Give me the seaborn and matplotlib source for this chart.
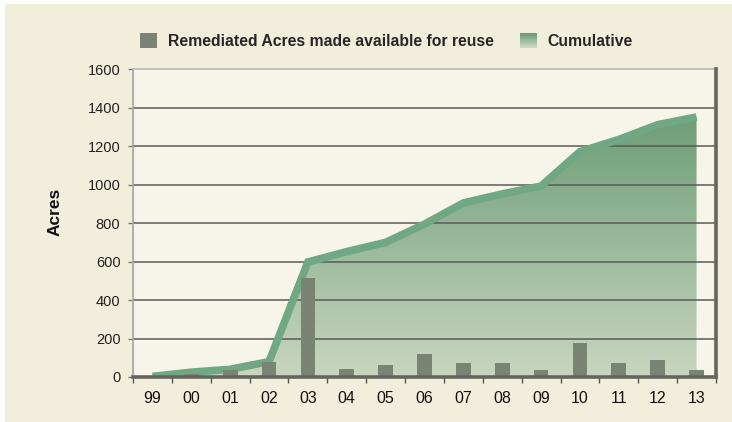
import numpy as np
import pandas as pd
import seaborn as sns
import matplotlib.pyplot as plt
from matplotlib.patches import Patch, Rectangle, Polygon
from matplotlib.legend_handler import HandlerBase
from matplotlib.colors import LinearSegmentedColormap

# data
years = ["99", "00", "01", "02", "03", "04", "05", "06", "07", "08", "09", "10", "11", "12", "13"]
acres = [5, 18, 38, 78, 514, 41, 61, 121, 72, 72, 36, 176, 72, 86, 37]
cumulative = [3, 25, 40, 80, 598, 652, 700, 795, 905, 952, 993, 1172, 1235, 1312, 1352]
yticks = [0, 200, 400, 600, 800, 1000, 1200, 1400, 1600]

bar_color = "#7a8475"
line_color = "#6fa883"
fig_bg = "#f2eedc"
ax_bg = "#f7f5ea"
grad = LinearSegmentedColormap.from_list("grad", ["#c9d6c0", "#6b9c75"])

df = pd.DataFrame({"year": years, "acres": acres, "cumulative": cumulative})
df["pos"] = np.arange(len(df))

sns.set_theme(style="white")
plt.rcParams["font.family"] = ["Liberation Sans", "DejaVu Sans"]

fig = plt.figure(figsize=(7.32, 4.22), dpi=100)
fig.patch.set_facecolor("white")
fig.patches.append(Rectangle((5 / 732, 0), 1, 1 - 4 / 422, transform=fig.transFigure,
                             facecolor=fig_bg, edgecolor="none", zorder=-10))
ax = fig.add_axes([133 / 732, 45 / 422, 583 / 732, 307.7 / 422])
ax.set_facecolor(ax_bg)

# gradient area under the cumulative line
x = df["pos"].to_numpy()
verts = [(x[0], 0)] + list(zip(x, df["cumulative"])) + [(x[-1], 0)]
poly = Polygon(verts, closed=True, transform=ax.transData, facecolor="none", edgecolor="none")
ax.add_patch(poly)
g = np.linspace(0, 1, 256).reshape(-1, 1)
im = ax.imshow(g, extent=[-0.5, 14.5, 0, 1400], origin="lower", aspect="auto", cmap=grad, zorder=1)
im.set_clip_path(poly)

# gridlines over the area
for yv in yticks[1:-1]:
    ax.axhline(yv, color="#5a5a58", lw=1.1, zorder=1.5)

# bars sit on top of the line in the original
sns.lineplot(data=df, x="pos", y="cumulative", color=line_color, lw=5.5, sort=False,
             ax=ax, zorder=3, solid_capstyle="butt", solid_joinstyle="miter")
sns.barplot(data=df, x="year", y="acres", color=bar_color, width=0.38, saturation=1,
            edgecolor="none", linewidth=0, ax=ax, zorder=4)

ax.set_xlim(-0.5, 14.5)
ax.set_ylim(0, 1600)
ax.set_yticks(yticks)
ax.set_xticks(range(len(years)))
ax.set_xticklabels(years)
ax.set_xticks(np.arange(-0.5, len(years)), minor=True)
ax.set_xlabel("")
ax.set_ylabel("")

ax.tick_params(axis="x", which="major", length=0, pad=10, labelsize=11.5, labelcolor="#111111")
ax.tick_params(axis="x", which="minor", length=4.5, width=1, color="#555555", direction="out", bottom=True)
ax.tick_params(axis="y", length=3.5, width=1, color="#777777", direction="out", left=True,
               pad=5.5, labelsize=10.5, labelcolor="#222222")

ax.spines["left"].set_color("#a8a8a8")
ax.spines["left"].set_linewidth(1.3)
ax.spines["top"].set_color("#b8b8b0")
ax.spines["top"].set_linewidth(1.2)
for s in ["right", "bottom"]:
    ax.spines[s].set_color("#66665e")
    ax.spines[s].set_linewidth(2.6)
    ax.spines[s].set_zorder(5)

fig.text(55 / 732, 1 - 212 / 422, "Acres", rotation=90, ha="center", va="center",
         fontsize=12.5, fontweight="bold", color="#111111")


class GradientHandler(HandlerBase):
    def create_artists(self, legend, orig_handle, xdescent, ydescent, width, height, fontsize, trans):
        n = 12
        arts = []
        for i in range(n):
            r = Rectangle((-xdescent, -ydescent + height * i / n), width, height / n + 0.3,
                          facecolor=grad(i / (n - 1)), edgecolor="none", transform=trans)
            arts.append(r)
        return arts


h_bar = Patch(facecolor=bar_color, edgecolor="none")
h_cum = Patch(facecolor=line_color, edgecolor="none")
leg = fig.legend([h_bar, h_cum], ["Remediated Acres made available for reuse", "Cumulative"],
                 loc="center", bbox_to_anchor=(0.528, 0.903), ncol=2, frameon=False,
                 handler_map={h_cum: GradientHandler()},
                 prop={"weight": "bold", "size": 11.3},
                 handlelength=1.05, handleheight=1.05, handletextpad=0.7, columnspacing=1.7)

fig.savefig("out.png", dpi=100, facecolor=fig.get_facecolor())
